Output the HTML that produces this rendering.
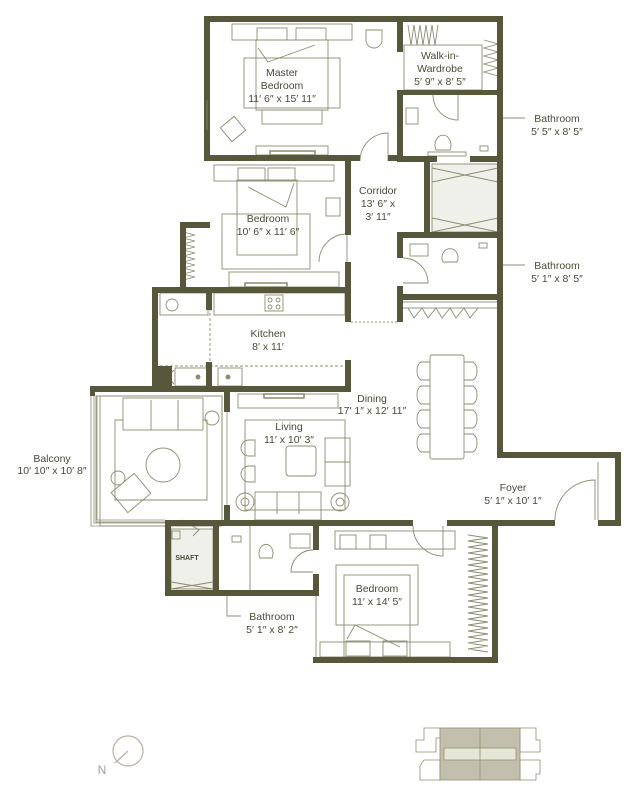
<!DOCTYPE html>
<html><head><meta charset="utf-8"><style>
html,body{margin:0;padding:0;background:#fff;}
svg{display:block;}
text{font-family:"Liberation Sans",sans-serif;font-size:10.5px;fill:#4a4a38;text-anchor:middle;}
</style></head><body>
<svg width="640" height="811" viewBox="0 0 640 811" xmlns="http://www.w3.org/2000/svg">
<g fill="none" stroke="#8c8c72" stroke-width="0.9">
<!-- master bedroom furniture -->
<rect x="232" y="24" width="120" height="16"/>
<rect x="257" y="28" width="30" height="12"/><rect x="296" y="28" width="30" height="12"/>
<rect x="256" y="40" width="72" height="70"/>
<rect x="244" y="58" width="96" height="50"/>
<rect x="262" y="110" width="60" height="14"/>
<path d="M258 48 L268 62 L315 45"/>
<rect x="256" y="146" width="72" height="9"/><rect x="270" y="151" width="45" height="4" stroke-width="1.5"/>
<path d="M366 30 h16 v10 a8 8 0 0 1 -16 0 z"/>
<rect x="224" y="120" width="18" height="18" transform="rotate(-40 233 129)"/>
<path d="M360 161 a28 28 0 0 1 28 -28 v28"/>
<!-- walk-in -->
<path d="M408 25 l3 20 l3 -20 l3 20 l3 -20 l3 20 l3 -20 l3 20 l3 -20 l3 20 l3 -20"/>
<path d="M484 40 l14 4 l-14 4 l14 4 l-14 4 l14 4 l-14 4 l14 4 l-14 4 l14 4"/>
<rect x="404" y="45" width="78" height="45"/>
<!-- bathroom 1 -->
<rect x="406" y="108" width="12" height="16"/>
<path d="M436 150 a8 10 0 1 1 14 0 z"/><rect x="428" y="152" width="38" height="4"/>
<rect x="480" y="146" width="8" height="5"/>
<path d="M433 95 a25 25 0 0 0 25 25 v-25"/>
<rect x="432" y="164" width="66" height="68" fill="#f0f0ea"/>
<path d="M432 168 l66 14 M432 182 l66 -14 M432 218 l66 14 M432 232 l66 -14"/>
<!-- bathroom 2 -->
<rect x="410" y="244" width="18" height="12"/>
<path d="M443 262 a8 9 0 1 1 14 0 z"/><rect x="479" y="243" width="8" height="5"/>
<path d="M403 258 a25 25 0 0 1 25 25 h-25"/>
<!-- bedroom 2 -->
<rect x="214" y="165" width="120" height="16"/>
<rect x="238" y="168" width="27" height="13"/><rect x="268" y="168" width="27" height="13"/>
<rect x="237" y="180" width="60" height="75"/><rect x="222" y="214" width="88" height="55"/>
<path d="M248 187 l38 20 l8 -24"/>
<rect x="326" y="198" width="14" height="18"/>
<rect x="229" y="272" width="110" height="15"/><rect x="245" y="283" width="42" height="4" stroke-width="1.5"/>
<path d="M183 232 l12 3 l-12 3 l12 3 l-12 3 l12 3 l-12 3 l12 3 l-12 3 l12 3 l-12 3 l12 3 l-12 3 l12 3 l-12 3 l12 3 l-12 3"/>
<path d="M319 262 a28 28 0 0 1 28 -28 v28"/>
<!-- kitchen -->
<line x1="210" y1="293" x2="210" y2="386" stroke-dasharray="3 2"/>
<rect x="160" y="293" width="48" height="22"/><circle cx="172" cy="305" r="6"/>
<rect x="214" y="293" width="131" height="22"/>
<rect x="265" y="295" width="18" height="16"/><circle cx="270" cy="300" r="2"/><circle cx="278" cy="300" r="2"/><circle cx="270" cy="307" r="2"/><circle cx="278" cy="307" r="2"/>
<line x1="160" y1="366" x2="345" y2="366" stroke-dasharray="3 2"/>
<rect x="175" y="368" width="34" height="18"/><rect x="218" y="368" width="24" height="18"/>
<circle cx="198" cy="377" r="2" fill="#8c8c72"/><circle cx="228" cy="377" r="2" fill="#8c8c72"/>
<path d="M160 370 l14 14 M174 370 l-14 14"/>
<rect x="238" y="394" width="100" height="14"/><rect x="264" y="394" width="40" height="4" stroke-width="1.5"/>
<!-- living -->
<rect x="245" y="420" width="100" height="90"/>
<rect x="286" y="446" width="30" height="30" rx="3"/>
<rect x="325" y="438" width="25" height="48"/><line x1="325" y1="462" x2="350" y2="462"/>
<rect x="255" y="492" width="66" height="28"/><line x1="277" y1="492" x2="277" y2="514"/><line x1="299" y1="492" x2="299" y2="514"/>
<path d="M255 440 h-6 a8 8 0 0 0 0 16 h6 z M255 466 h-6 a8 8 0 0 0 0 16 h6 z"/>
<circle cx="245" cy="502" r="9"/><circle cx="245" cy="502" r="4"/><circle cx="340" cy="502" r="9"/><circle cx="340" cy="502" r="4"/>
<!-- balcony -->
<rect x="96" y="396" width="126" height="126"/><rect x="100" y="396" width="122" height="130"/>
<rect x="123" y="398" width="80" height="32"/><line x1="151" y1="400" x2="151" y2="430"/><line x1="178" y1="400" x2="178" y2="430"/>
<path d="M123 420 h-8 v80 h92 v-80 h-4"/>
<circle cx="163" cy="465" r="17"/><circle cx="212" cy="418" r="7"/><circle cx="118" cy="478" r="7"/>
<rect x="116" y="480" width="30" height="26" transform="rotate(-40 131 493)"/>
<!-- dining -->
<rect x="402" y="302" width="96" height="6"/>
<path d="M408 308 l6 10 l8 -10 l6 10 l8 -10 l6 10 l8 -10 l6 10 l8 -10 l6 10 l8 -10"/>
<rect x="430" y="355" width="34" height="104" rx="2"/>
<path d="M430 362 h-8 a5 9 0 0 0 0 18 h8 M430 386 h-8 a5 9 0 0 0 0 18 h8 M430 410 h-8 a5 9 0 0 0 0 18 h8 M430 434 h-8 a5 9 0 0 0 0 18 h8"/>
<path d="M464 362 h8 a5 9 0 0 1 0 18 h-8 M464 386 h8 a5 9 0 0 1 0 18 h-8 M464 410 h8 a5 9 0 0 1 0 18 h-8 M464 434 h8 a5 9 0 0 1 0 18 h-8"/>
<line x1="351" y1="322" x2="397" y2="322" stroke-dasharray="2 2"/>
<!-- foyer -->
<line x1="598" y1="462" x2="598" y2="520"/>
<path d="M555 520 a40 40 0 0 1 40 -40 v40"/>
<!-- shaft / bath 3 -->
<rect x="171" y="529" width="42" height="60" fill="#f0f0ea"/>
<path d="M171 582 l42 7 M171 589 l42 -7"/>
<rect x="172" y="531" width="8" height="8"/>
<path d="M183 520 l16 10 l-6 6"/>
<rect x="232" y="536" width="9" height="6"/>
<path d="M260 558 a7 9 0 1 1 12 0 z"/><rect x="290" y="534" width="20" height="14"/>
<line x1="250" y1="526" x2="250" y2="590"/>
<path d="M313 550 a22 22 0 0 0 -22 22 h22"/>
<!-- bedroom 3 -->
<rect x="335" y="531" width="120" height="18"/>
<rect x="340" y="535" width="16" height="14"/><rect x="370" y="535" width="16" height="14"/>
<rect x="336" y="565" width="82" height="60"/><rect x="344" y="575" width="66" height="82"/>
<path d="M347 639 l8 -14 l45 22"/>
<rect x="320" y="642" width="130" height="15"/><rect x="346" y="641" width="24" height="15"/><rect x="383" y="641" width="24" height="15"/>
<path d="M413 526 a30 30 0 0 0 30 30 v-30"/>
<path d="M468 535 l20 3 l-20 3 l20 3 l-20 3 l20 3 l-20 3 l20 3 l-20 3 l20 3 l-20 3 l20 3 l-20 3 l20 3 l-20 3 l20 3 l-20 3 l20 3 l-20 3 l20 3 l-20 3 l20 3 l-20 3 l20 3 l-20 3 l20 3 l-20 3 l20 3 l-20 3 l20 3 l-20 3 l20 3 l-20 3 l20 3 l-20 3 l20 3 l-20 3 l20 3 l-20 3 l20 3"/>
<line x1="316" y1="596" x2="316" y2="660"/>
<!-- leader lines -->
<path d="M500 118 h25 M500 265 h25 M227 596 v20 h14"/>
</g>
<g fill="#57573b">
<rect x="204" y="16" width="299" height="6"/>
<rect x="204" y="16" width="6" height="145"/>
<rect x="204" y="155" width="156" height="6"/>
<rect x="388" y="155" width="15" height="6"/>
<rect x="397" y="16" width="6" height="36"/>
<rect x="397" y="90" width="6" height="71"/>
<rect x="397" y="90" width="106" height="5"/>
<rect x="397" y="156" width="40" height="6"/>
<rect x="470" y="156" width="33" height="6"/>
<rect x="424" y="160" width="6" height="78"/>
<rect x="397" y="232" width="106" height="6"/>
<rect x="397" y="232" width="6" height="26"/>
<rect x="397" y="286" width="6" height="36"/>
<rect x="397" y="294" width="106" height="6"/>
<rect x="497" y="16" width="6" height="442"/>
<rect x="497" y="452" width="124" height="6"/>
<rect x="615" y="452" width="6" height="74"/>
<rect x="598" y="520" width="23" height="6"/>
<rect x="447" y="520" width="108" height="6"/>
<rect x="165" y="520" width="248" height="6"/>
<rect x="345" y="161" width="6" height="74"/>
<rect x="345" y="262" width="6" height="60"/>
<rect x="345" y="360" width="6" height="32"/>
<rect x="180" y="222" width="30" height="6"/>
<rect x="180" y="222" width="6" height="71"/>
<rect x="152" y="287" width="199" height="6"/>
<rect x="152" y="287" width="6" height="105"/>
<rect x="90" y="386" width="261" height="6"/>
<rect x="90" y="386" width="5" height="10"/>
<rect x="206" y="292" width="6" height="18"/><rect x="206" y="362" width="6" height="28"/>
<rect x="152" y="366" width="20" height="22"/>
<rect x="224" y="392" width="6" height="20"/><rect x="224" y="505" width="6" height="20"/>
<rect x="165" y="520" width="6" height="76"/>
<rect x="165" y="590" width="154" height="6"/>
<rect x="213" y="520" width="6" height="76"/>
<rect x="313" y="526" width="6" height="24"/><rect x="313" y="574" width="6" height="22"/>
<rect x="313" y="657" width="185" height="6"/>
<rect x="492" y="526" width="6" height="137"/>
</g>
<g fill="none" stroke="#8c8c72" stroke-width="0.8">
<path d="M91 396 v130 h74 M94 396 v127 h71 M97 396 v124 h68"/>
<line x1="227" y1="412" x2="227" y2="505"/>
<line x1="207" y1="100" x2="207" y2="130"/>
</g>
<rect x="171" y="529" width="42" height="8" fill="none"/>
<text x="282" y="76">Master</text>
<text x="282" y="89">Bedroom</text>
<text x="282" y="102">11′ 6″ x 15′ 11″</text>
<text x="440" y="59">Walk-in-</text>
<text x="440" y="72">Wardrobe</text>
<text x="440" y="85">5′ 9″ x 8′ 5″</text>
<text x="557" y="122">Bathroom</text>
<text x="557" y="135">5′ 5″ x 8′ 5″</text>
<text x="378" y="194">Corridor</text>
<text x="378" y="207">13′ 6″ x</text>
<text x="378" y="220">3′ 11″</text>
<text x="268" y="222">Bedroom</text>
<text x="268" y="235">10′ 6″ x 11′ 6″</text>
<text x="557" y="269">Bathroom</text>
<text x="557" y="282">5′ 1″ x 8′ 5″</text>
<text x="268" y="337">Kitchen</text>
<text x="268" y="350">8′ x 11′</text>
<text x="372" y="402">Dining</text>
<text x="372" y="414">17′ 1″ x 12′ 11″</text>
<text x="289" y="430">Living</text>
<text x="289" y="443">11′ x 10′ 3″</text>
<text x="52" y="462">Balcony</text>
<text x="52" y="474">10′ 10″ x 10′ 8″</text>
<text x="513" y="491">Foyer</text>
<text x="513" y="504">5′ 1″ x 10′ 1″</text>
<text x="187" y="560" style="font-size:7px;font-weight:bold">SHAFT</text>
<text x="272" y="620">Bathroom</text>
<text x="272" y="633">5′ 1″ x 8′ 2″</text>
<text x="377" y="592">Bedroom</text>
<text x="377" y="605">11′ x 14′ 5″</text>
<g fill="none" stroke="#b8b0a6" stroke-width="1.2">
<circle cx="128" cy="751" r="15"/><line x1="128" y1="751" x2="115" y2="763"/>
</g>
<text x="102" y="774" style="fill:#a8a09a;font-size:12px">N</text>
<g stroke="#8f8f6e" stroke-width="0.8">
<path d="M424 728 h16 v10 h-4 v14 h-20 v-12 h8 z M424 760 h16 v20 h-20 v-14 z" fill="#fff"/>
<path d="M520 728 h16 v12 h4 v12 h-20 z M520 760 h20 v14 h-4 v6 h-16 z" fill="#fff"/>
<rect x="440" y="728" width="80" height="52" fill="#c2bfae"/>
<rect x="444" y="748" width="72" height="12" fill="#e6e6d6"/>
<line x1="480" y1="728" x2="480" y2="780"/>
</g>
</svg>
</body></html>
